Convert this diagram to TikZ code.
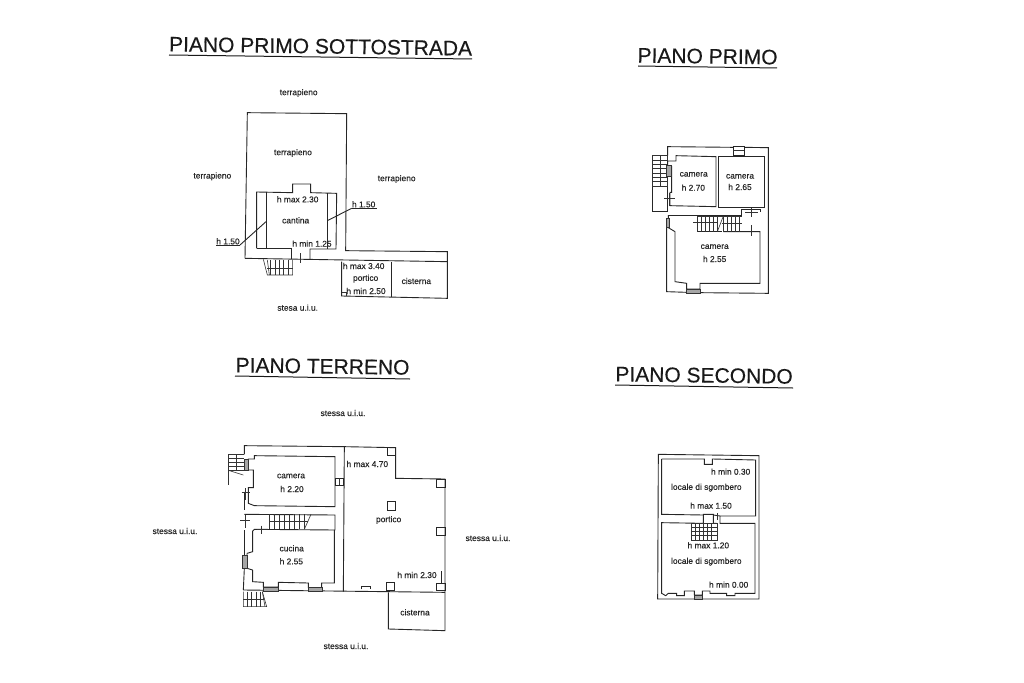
\documentclass[tikz,border=0pt]{standalone}
\usepackage{fontspec}
\setmainfont[FakeBold=0.25]{Liberation Sans}
\tikzset{
  wall/.style={draw=black!85,line width=0.9pt,line join=miter},
  thin wall/.style={draw=black!80,line width=0.6pt},
  windowstrip/.style={draw=black!80,fill=black!35,line width=0.6pt},
  lab/.style={font=\fontsize{8.4}{10}\selectfont,text=black!85,inner sep=0pt},
  title/.style={font=\fontsize{21}{24}\selectfont,text=black!90,inner sep=0pt,anchor=base},
  under/.style={draw=black!90,line width=1pt},
  zone/.style={x=0.33333pt,y=-0.33333pt}
}
\begin{document}
\begin{tikzpicture}[x=1pt,y=-1pt]
\useasboundingbox[fill=white] (0,0) rectangle (1024,682);
% titles
\node[title,rotate=-0.8] at (320.5,53.5) {PIANO PRIMO SOTTOSTRADA};
\draw[under] (169,55) -- (472,59);
\node[title,rotate=-0.8] at (707.5,63.5) {PIANO PRIMO};
\draw[under] (638,66) -- (777,68);
\node[title,rotate=-0.8] at (322.5,373.5) {PIANO TERRENO};
\draw[under] (235,376) -- (410,379);
\node[title,rotate=-0.8] at (704,382.5) {PIANO SECONDO};
\draw[under] (615,385) -- (793,388);

% ---------- sottostrada
\begin{scope}[shift={(180,80)},zone]
\draw[wall] (195,535) -- (202,98) -- (500,101) -- (497,512) -- (802,515) -- (802,655) -- (485,648) -- (485,545);
\draw[wall] (195,535) -- (802,545);
\draw[wall] (230,505) -- (230,336) -- (338,338) -- (338,312) -- (392,312) -- (392,338) -- (470,340) -- (468,507) -- (390,507) -- (390,538);
\draw[wall] (230,505) -- (335,505) -- (335,537);
\draw[wall] (258,336) -- (258,505);
\draw[wall] (442,340) -- (442,507);
\draw[wall] (635,545) -- (635,652);
\draw[thin wall] (485,637) -- (498,637) -- (498,648);
\draw[thin wall] (361,520) -- (361,550);
\draw[thin wall] (250,538) -- (262,585) -- (338,585) -- (338,540);
\foreach \xx in {272,285,298,311,324} \draw[thin wall] (\xx,540) -- (\xx,585);
\draw[thin wall] (262,540) -- (268,585);
\draw[thin wall] (262,566) -- (338,566);
\draw[wall] (108,495) -- (180,495);
\draw[wall] (180,495) -- (258,425);
\draw[wall] (515,385) -- (590,385);
\draw[wall] (515,385) -- (442,422);
\node[lab] at (356,39) {terrapieno};
\node[lab] at (339,219) {terrapieno};
\node[lab] at (97,289) {terrapieno};
\node[lab] at (650,297) {terrapieno};
\node[lab] at (353,358) {h max 2.30};
\node[lab] at (347,421) {cantina};
\node[lab] at (396,491) {h min 1.25};
\node[lab] at (144,484) {h 1.50};
\node[lab] at (551,373) {h 1.50};
\node[lab] at (551,558) {h max 3.40};
\node[lab] at (557,596) {portico};
\node[lab] at (558,633) {h min 2.50};
\node[lab] at (709,603) {cisterna};
\node[lab] at (353,683) {stesa u.i.u.};
\end{scope}

% ---------- primo
\begin{scope}[shift={(640,135)},zone]
\draw[wall] (83,62) -- (83,35) -- (280,37);
\draw[wall] (312,37) -- (385,38) -- (385,475) -- (180,473);
\draw[wall] (140,472) -- (80,470) -- (80,278);
\draw[wall] (83,228) -- (83,125);
\draw[wall] (37,155) -- (37,228) -- (83,228);
\draw[wall] (280,35) rectangle (312,60);
\draw[thin wall] (280,45) -- (312,45);
% outer stair
\draw[thin wall] (37,62) rectangle (83,155);
\foreach \yy in {75,88,101,114,127,140} \draw[thin wall] (37,\yy) -- (83,\yy);
\draw[thin wall] (60,62) -- (60,155);
% rooms
\draw[wall] (108,62) -- (228,65) -- (228,215) -- (90,212) -- (90,172) -- (95,172) -- (95,95) -- (83,95) -- (83,78) -- (108,78) -- cycle;
\draw[windowstrip] (80,90) rectangle (95,125);
\draw[thin wall] (88,175) -- (88,212);
\draw[thin wall] (72,190) -- (104,190);
\draw[wall] (235,65) -- (372,65) -- (372,218) -- (235,218) -- cycle;
\draw[wall] (84,240) -- (305,240) -- (305,222) -- (360,222) -- (360,232);
\draw[wall] (85,240) -- (85,278) -- (105,290) -- (105,440) -- (140,445) -- (140,462) -- (180,462) -- (180,445) -- (360,445) -- (360,290) -- (250,290);
\draw[windowstrip] (80,250) rectangle (88,278);
\draw[wall] (172,290) -- (245,290);
\foreach \xx in {172,184,196,208,220,232,250,262,274,286,298} \draw[thin wall] (\xx,243) -- (\xx,290);
\draw[thin wall] (172,243) -- (305,243);
\draw[thin wall] (160,262) -- (232,262);
\draw[thin wall] (232,290) -- (250,243);
\draw[thin wall] (245,265) -- (305,265);
\draw[thin wall] (315,233) -- (355,233);
\draw[thin wall] (333,218) -- (333,245);
\draw[thin wall] (333,270) -- (333,302);
\draw[windowstrip] (140,462) rectangle (180,475);
\node[lab] at (161,118) {camera};
\node[lab] at (160,158) {h 2.70};
\node[lab] at (300,124) {camera};
\node[lab] at (300,156) {h 2.65};
\node[lab] at (224,335) {camera};
\node[lab] at (224,372) {h 2.55};
\end{scope}

% ---------- terreno
\begin{scope}[shift={(215,435)},zone]
\draw[wall] (88,58) -- (88,32) -- (388,35) -- (542,38) -- (542,130) -- (690,132) -- (690,587) -- (520,582) -- (520,472);
\draw[wall] (85,465) -- (690,472);
\draw[wall] (388,35) -- (385,470);
\draw[wall] (88,170) -- (88,225);
\draw[wall] (88,285) -- (88,360);
\draw[wall] (88,400) -- (85,465);
\draw[wall] (118,62) -- (360,65) -- (360,215) -- (118,212) -- (100,205) -- (100,158) -- (115,158) -- (115,105) -- (100,105) -- (100,72) -- (118,72) -- cycle;
\draw[wall] (88,238) -- (360,240) -- (360,285) -- (118,283) -- (113,288) -- (113,350) -- (96,355);
\draw[wall] (113,405) -- (113,440) -- (145,442) -- (145,456) -- (190,456) -- (190,442) -- (280,444) -- (280,458) -- (320,458) -- (320,444) -- (358,444) -- (358,285);
\draw[wall] (96,355) -- (96,400) -- (113,405);
\draw[windowstrip] (82,360) rectangle (96,400);
\draw[windowstrip] (145,458) rectangle (190,470);
\draw[windowstrip] (280,458) rectangle (322,470);
\draw[thin wall] (80,172) -- (106,172);
\draw[thin wall] (92,160) -- (92,195);
\draw[thin wall] (75,256) -- (105,256);
\draw[thin wall] (90,240) -- (90,278);
\draw[thin wall] (125,283) -- (160,283);
\draw[thin wall] (138,272) -- (138,298);
\draw[wall] (360,130) rectangle (386,150);
\draw[thin wall] (372,130) -- (372,150);
\foreach \xx in {163,178,193,208,223,238,253,268} \draw[thin wall] (\xx,238) -- (\xx,283);
\draw[thin wall] (163,258) -- (280,258);
\draw[thin wall] (268,283) -- (288,238);
\draw[thin wall] (40,58) -- (88,58);
\foreach \yy in {70,82,94,106} \draw[thin wall] (40,\yy) -- (88,\yy);
\draw[thin wall] (40,58) -- (40,150);
\draw[thin wall] (65,58) -- (65,106);
\draw[thin wall] (40,106) -- (85,120);
\draw[windowstrip] (88,72) rectangle (100,105);
\draw[thin wall] (85,470) -- (85,515) -- (155,515) -- (142,470);
\foreach \xx in {97,110,123,136} \draw[thin wall] (\xx,470) -- (\xx,515);
\draw[thin wall] (85,492) -- (148,492);
\draw[thin wall] (142,470) -- (150,515);
\draw[wall] (517,38) rectangle (542,62);
\draw[wall] (665,132) rectangle (690,156);
\draw[wall] (516,200) rectangle (541,225);
\draw[wall] (665,278) rectangle (690,302);
\draw[wall] (665,444) rectangle (690,466);
\draw[wall] (514,441) rectangle (539,465);
\draw[wall] (680,408) -- (680,444);
\draw[wall] (440,463) -- (440,453) -- (465,453) -- (465,463);
\node[lab] at (457,87) {h max 4.70};
\node[lab] at (228,123) {camera};
\node[lab] at (231,162) {h 2.20};
\node[lab] at (521,255) {portico};
\node[lab] at (230,340) {cucina};
\node[lab] at (229,379) {h 2.55};
\node[lab] at (606,420) {h min 2.30};
\node[lab] at (600,532) {cisterna};
\end{scope}
\node[lab] at (343,413) {stessa u.i.u.};
\node[lab] at (175,531) {stessa u.i.u.};
\node[lab] at (488,538) {stessa u.i.u.};
\node[lab] at (346,646) {stessa u.i.u.};

% ---------- secondo
\begin{scope}[shift={(645,445)},zone]
\draw[wall] (40,28) -- (342,32) -- (342,462) -- (38,462) -- cycle;
\draw[wall] (50,42) -- (178,42) -- (178,58) -- (202,58) -- (202,42) -- (332,45) -- (332,213) -- (225,213) -- (225,235) -- (330,235) -- (330,445) -- (270,445) -- (270,452) -- (245,452) -- (245,445) -- (195,445) -- (195,438) -- (172,438) -- (172,450) -- (148,450) -- (148,438) -- (118,438) -- (118,452) -- (95,452) -- (95,445) -- (70,445) -- (62,452) -- (50,445) -- (50,233) -- (175,235) -- (175,208) -- (205,208) -- (205,235) -- (215,235);
\draw[wall] (50,42) -- (50,208) -- (175,210);
\draw[wall] (205,210) -- (225,213);
\draw[thin wall] (217,205) -- (217,225);
\draw[thin wall] (140,235) rectangle (217,285);
\foreach \xx in {152,164,176,188,200} \draw[thin wall] (\xx,235) -- (\xx,285);
\foreach \yy in {247,259,271} \draw[thin wall] (140,\yy) -- (217,\yy);
\draw[windowstrip] (148,450) rectangle (172,462);
\node[lab] at (257,80) {h min 0.30};
\node[lab] at (184,128) {locale di sgombero};
\node[lab] at (198,182) {h max 1.50};
\node[lab] at (190,301) {h max 1.20};
\node[lab] at (184,350) {locale di sgombero};
\node[lab] at (251,419) {h min 0.00};
\end{scope}
\end{tikzpicture}
\end{document}
